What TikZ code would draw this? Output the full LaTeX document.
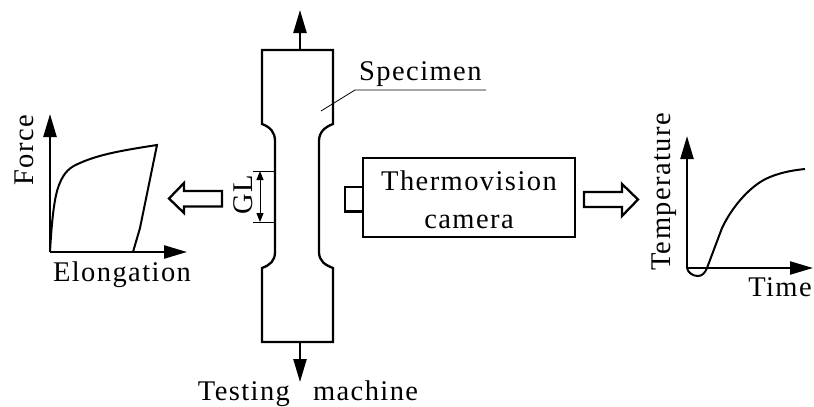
\documentclass[tikz,border=0pt]{standalone}
\usepackage{fontspec}
\setmainfont[LetterSpace=5,WordSpace=2.7]{Liberation Serif}
\usetikzlibrary{arrows.meta}
\tikzset{
  lbl/.style={inner sep=0pt,font=\fontsize{28.5}{30}\selectfont,text=black},
  outlinepath/.style={line width=2.3pt,line join=miter},
  force/.style={line width=2.3pt,-{Triangle[length=23pt,width=13pt]}},
  curvepath/.style={line width=2pt},
  thinline/.style={line width=0.8pt},
  dim/.style={line width=1pt,{Triangle[length=9pt,width=7pt]}-{Triangle[length=9pt,width=7pt]}},
  hollow/.style={line width=2.3pt,line join=miter,fill=white}
}
\begin{document}
\begin{tikzpicture}[x=1pt,y=-1pt]
\useasboundingbox (0,0) rectangle (814,407);
% specimen
\coordinate (sTop) at (300,50);
\coordinate (sBot) at (300,342);
\coordinate (topTip) at (300,10);
\coordinate (botTip) at (300,382);
\draw[outlinepath] (262,50) -- (333,50) -- (333,124)
  .. controls (325,127) and (319,132) .. (319,141) -- (319,252)
  .. controls (319,261) and (325,265) .. (333,268) -- (333,342) -- (262,342) -- (262,268)
  .. controls (270,265) and (275,261) .. (275,252) -- (275,141)
  .. controls (275,132) and (270,127) .. (262,124) -- cycle;
\draw[force] (sTop) -- (topTip);
\draw[force] (sBot) -- (botTip);
% specimen label
\node[lbl,anchor=base west] (spec) at (359,80) {Specimen};
\coordinate (l1) at (321,111);
\coordinate (l2) at (355,90);
\coordinate (l3) at (486,90);
\draw[thinline] (l1) -- (l2) -- (l3);
% gauge length
\coordinate (gl1) at (275,171);
\coordinate (gl2) at (275,222);
\coordinate (gl1a) at (253,171);
\coordinate (gl2a) at (253,222);
\coordinate (gd1) at (260,171);
\coordinate (gd2) at (260,222);
\draw[thinline] (gl1) -- (gl1a);
\draw[thinline] (gl2) -- (gl2a);
\draw[dim] (gd1) -- (gd2);
\node[lbl,rotate=90,anchor=base] (gl) at (252,195) {GL};
% left hollow arrow
\draw[hollow] (222,191) -- (184,191) -- (184,183) -- (169,198.5) -- (184,213) -- (184,206.5) -- (222,206.5) -- cycle;
% camera
\node[draw,line width=2.3pt,inner sep=0pt] (cam) at (469,197.5) {\tikz[x=1pt,y=1pt]\path (0,0) rectangle (212,79);};
\draw[outlinepath] (cam.west |- 0,187) -- (345,187) -- (345,211.5) -- (cam.west |- 0,211.5);
\node[lbl,anchor=base] (t1) at (469,190) {Thermovision};
\node[lbl,anchor=base] (t2) at (469,228) {camera};
% right hollow arrow
\draw[hollow] (584,192) -- (622,192) -- (622,184) -- (638,199.5) -- (622,216) -- (622,207) -- (584,207) -- cycle;
% force plot
\coordinate (fo) at (50,252);
\coordinate (fy) at (50,114);
\coordinate (fx) at (187,252);
\draw[force] (fo) -- (fy);
\draw[force] (fo) -- (fx);
\draw[curvepath] (fo) .. controls (52,215) and (55,195) .. (59,185)
  .. controls (64,172) and (70,167) .. (80,163)
  .. controls (100,154) and (125,150) .. (157,145) -- (140,228) -- (133,252);
\node[lbl,rotate=90,anchor=base] (force) at (34,150) {Force};
\node[lbl,anchor=base] (elong) at (122,281) {Elongation};
% temperature plot
\coordinate (to) at (687,268);
\coordinate (ty) at (687,136);
\coordinate (tx) at (813,268);
\draw[force] (to) -- (ty);
\draw[force] (to) -- (tx);
\draw[curvepath] (to) .. controls (688,273) and (693,276) .. (698,276)
  .. controls (702,276) and (705,273) .. (707,268)
  -- (722,228) .. controls (733,205) and (752,184) .. (770,177)
  .. controls (782,172) and (795,170) .. (805,169);
\node[lbl,rotate=90,anchor=base] (temp) at (670,192) {Temperature};
\node[lbl,anchor=base] (time) at (780,296) {Time};
% testing machine
\node[lbl,anchor=base] (tm) at (308,400.3) {Testing machine};
\end{tikzpicture}
\end{document}
